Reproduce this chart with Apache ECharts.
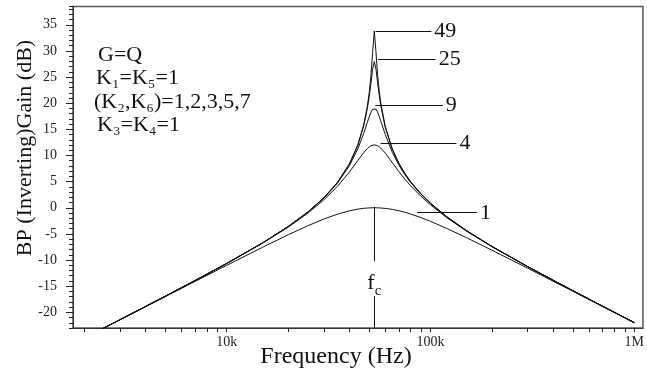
<!DOCTYPE html>
<html>
<head>
<meta charset="utf-8">
<script src="https://cdn.jsdelivr.net/npm/echarts@6/dist/echarts.min.js"></script>
<style>
  html, body { margin: 0; padding: 0; background: #fff; }
  #chart { width: 647px; height: 376px; }
</style>
</head>
<body>
<div id="chart"></div>
<script>
// ---- data ----
const freqHz = [2000, 3000, 5000, 7000, 10000, 15000, 20000, 25000, 30000, 35000, 40000, 44000, 47000, 49000, 50000, 51000, 52000, 53000, 54000, 55000, 56000, 57000, 60000, 65000, 70000, 75000, 80000, 90000, 100000, 120000, 150000, 200000, 300000, 500000, 700000, 1000000];

const gain1  = [-24.95, -21.43, -17.00, -14.08, -11.01, -7.56, -5.18, -3.44, -2.15, -1.22, -0.59, -0.26, -0.11, -0.05, -0.03, -0.01, 0.00, 0.00, 0.00, -0.01, -0.02, -0.04, -0.12, -0.31, -0.57, -0.87, -1.20, -1.90, -2.60, -3.94, -5.71, -8.11, -11.57, -15.98, -18.90, -22.00];
const gain4  = [-24.93, -21.39, -16.91, -13.92, -10.67, -6.77, -3.73, -1.04, 1.53, 4.13, 6.84, 9.04, 10.54, 11.34, 11.64, 11.86, 12.00, 12.04, 12.00, 11.88, 11.68, 11.43, 10.46, 8.62, 6.91, 5.44, 4.19, 2.15, 0.55, -1.87, -4.46, -7.43, -11.28, -15.88, -18.85, -21.97];
const gain9  = [-24.93, -21.39, -16.91, -13.91, -10.65, -6.73, -3.63, -0.86, 1.85, 4.73, 8.05, 11.27, 14.19, 16.32, 17.36, 18.25, 18.86, 19.08, 18.87, 18.30, 17.51, 16.62, 14.00, 10.58, 8.14, 6.28, 4.80, 2.52, 0.81, -1.73, -4.38, -7.39, -11.26, -15.88, -18.85, -21.97];
const gain25 = [-24.93, -21.39, -16.91, -13.91, -10.65, -6.72, -3.61, -0.83, 1.92, 4.87, 8.35, 11.95, 15.62, 19.01, 21.17, 23.74, 26.49, 27.96, 26.53, 23.94, 21.55, 19.58, 15.36, 11.15, 8.45, 6.49, 4.94, 2.61, 0.86, -1.70, -4.36, -7.38, -11.26, -15.87, -18.84, -21.97];
const gain49 = [-24.93, -21.39, -16.91, -13.91, -10.65, -6.72, -3.61, -0.82, 1.93, 4.89, 8.39, 12.03, 15.82, 19.44, 21.90, 25.16, 29.74, 33.80, 29.84, 25.44, 22.36, 20.07, 15.54, 11.22, 8.49, 6.51, 4.96, 2.62, 0.87, -1.69, -4.36, -7.38, -11.26, -15.87, -18.84, -21.97];

// curve labels and their leader lines (frequency, dB)
const curveLabels = ['1', '4', '9', '25', '49'];
const leaderStartHz = [86000, 56900, 53600, 55300, 53800];
const leaderEndHz   = [169000, 134000, 115000, 106000, 101000];
const leaderDb      = [-0.95, 12.4, 19.6, 28.4, 33.7];

// centre frequency marker
const fcHz = 53000;
const fcLineDb = [0.2, -10.2, -16.9, -23];
const fcLabelDb = -14.25;

// axes
const xTickValues = [2000, 3000, 4000, 5000, 6000, 7000, 8000, 9000,
  10000, 20000, 30000, 40000, 50000, 60000, 70000, 80000, 90000,
  100000, 200000, 300000, 400000, 500000, 600000, 700000, 800000, 900000, 1000000];
const xLabelValues = [10000, 100000, 1000000];
const xLabelTexts = ['10k', '100k', '1M'];
const yLabelValues = [-20, -15, -10, -5, 0, 5, 10, 15, 20, 25, 30, 35];

const paramLines = ['G=Q', 'K\u2081=K\u2085=1', '(K\u2082,K\u2086)=1,2,3,5,7', 'K\u2083=K\u2084=1'];

// ---- chart ----
const SERIF = "'Liberation Serif', 'Times New Roman', serif";
const INK = '#111';
const chart = echarts.init(document.getElementById('chart'), null, { renderer: 'canvas' });

const curves = [gain1, gain4, gain9, gain25, gain49];
const series = curves.map((vals, i) => {
  const s = {
    type: 'line',
    data: freqHz.map((f, j) => [f, vals[j]]),
    symbol: 'none',
    showSymbol: false,
    clip: true,
    silent: true,
    animation: false,
    lineStyle: { color: INK, width: 1 },
    markLine: {
      silent: true,
      animation: false,
      symbol: ['none', 'none'],
      lineStyle: { color: INK, width: 1, type: 'solid' },
      label: {
        show: true, position: 'end', distance: 3,
        formatter: curveLabels[i],
        fontFamily: SERIF, fontSize: 22, color: INK
      },
      data: [[{ coord: [leaderStartHz[i], leaderDb[i]] }, { coord: [leaderEndHz[i], leaderDb[i]] }]]
    }
  };
  if (i === 0) {
    s.markLine.data.push(
      [{ coord: [fcHz, fcLineDb[0]], label: { show: false } }, { coord: [fcHz, fcLineDb[1]] }],
      [{ coord: [fcHz, fcLineDb[2]], label: { show: false } }, { coord: [fcHz, fcLineDb[3]] }]
    );
    s.markPoint = {
      silent: true,
      animation: false,
      symbol: 'circle',
      symbolSize: 0,
      label: {
        show: true, position: 'inside',
        formatter: '{f|f}{c|c}',
        rich: {
          f: { fontFamily: SERIF, fontSize: 22, color: INK, lineHeight: 24, verticalAlign: 'bottom' },
          c: { fontFamily: SERIF, fontSize: 15, color: INK, lineHeight: 15, verticalAlign: 'bottom', padding: [0, 0, -4, 0] }
        }
      },
      data: [{ coord: [fcHz, fcLabelDb] }]
    };
  }
  return s;
});
// empty series so that the second (major-tick) y axis is in use
series.push({ type: 'line', xAxisIndex: 0, yAxisIndex: 1, data: [], silent: true, animation: false });

const option = {
  backgroundColor: '#fff',
  animation: false,
  grid: { left: 73, right: 2, top: 6.5, bottom: 48, show: true, borderColor: '#555', borderWidth: 1.5, backgroundColor: 'transparent' },
  xAxis: {
    type: 'log', logBase: 10, min: 1761, max: 1103000,
    axisLine: { show: true, onZero: false, lineStyle: { color: '#333', width: 1 } },
    axisTick: { show: true, length: 4, customValues: xTickValues, lineStyle: { color: '#222' } },
    axisLabel: {
      show: true, margin: 7, customValues: xLabelValues,
      formatter: v => { const k = xLabelValues.indexOf(v); return k >= 0 ? xLabelTexts[k] : ''; },
      fontFamily: SERIF, fontSize: 14, color: '#222'
    },
    splitLine: { show: false },
    minorTick: { show: false }
  },
  yAxis: [{
    type: 'value', min: -23, max: 38.5, interval: 1,
    axisLine: { show: true, onZero: false, lineStyle: { color: '#333', width: 1 } },
    axisTick: { show: true, length: 4, interval: 0, lineStyle: { color: '#222' } },
    axisLabel: { show: true, margin: 16, customValues: yLabelValues, fontFamily: SERIF, fontSize: 14, color: '#222' },
    splitLine: { show: false }
  }, {
    type: 'value', min: -23, max: 38.5, position: 'left', offset: 0,
    axisLine: { show: false },
    axisTick: { show: true, length: 7, customValues: yLabelValues, lineStyle: { color: '#222' } },
    axisLabel: { show: false },
    splitLine: { show: false }
  }],
  graphic: [
    {
      type: 'text', x: 25, y: 148, rotation: Math.PI / 2,
      style: { text: 'BP (Inverting)Gain (dB)', font: "22px 'Liberation Serif'", fill: INK, textAlign: 'center', textVerticalAlign: 'middle' }
    },
    {
      type: 'text', x: 336, y: 357,
      style: { text: 'Frequency (Hz)', font: "24px 'Liberation Serif'", fill: INK, textAlign: 'center', textVerticalAlign: 'middle' }
    },
    { type: 'text', x: 98, y: 55, style: { text: paramLines[0], font: "22px 'Liberation Serif'", fill: INK, textVerticalAlign: 'middle' } },
    { type: 'text', x: 96, y: 78, style: { text: paramLines[1], font: "22px 'Liberation Serif'", fill: INK, textVerticalAlign: 'middle' } },
    { type: 'text', x: 94, y: 102, style: { text: paramLines[2], font: "22px 'Liberation Serif'", fill: INK, textVerticalAlign: 'middle' } },
    { type: 'text', x: 97, y: 125, style: { text: paramLines[3], font: "22px 'Liberation Serif'", fill: INK, textVerticalAlign: 'middle' } }
  ],
  series: series
};
chart.setOption(option);
</script>
</body>
</html>
